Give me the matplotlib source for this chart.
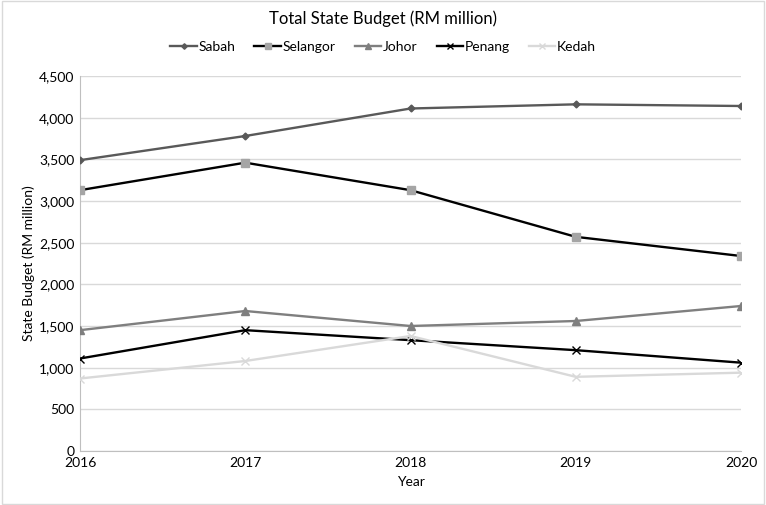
import matplotlib
matplotlib.use("Agg")
import matplotlib.pyplot as plt
from matplotlib.ticker import FuncFormatter

years = [2016, 2017, 2018, 2019, 2020]
sabah = [3490, 3780, 4110, 4160, 4140]
selangor = [3130, 3460, 3130, 2570, 2340]
johor = [1450, 1680, 1500, 1560, 1740]
penang = [1110, 1450, 1330, 1210, 1060]
kedah = [870, 1080, 1380, 890, 940]

plt.rcParams['font.family'] = ['Lato', 'DejaVu Sans']

fig = plt.figure(figsize=(7.66, 5.05), dpi=100)
ax = fig.add_axes([80/766, 1-451/505, (741-80)/766, (451-76)/505])

# series: values, line colour, marker, marker colour
series = [
    ("Sabah", sabah, "#595959", "D", "#595959", 3.5),
    ("Selangor", selangor, "#000000", "s", "#A5A5A5", 5.5),
    ("Johor", johor, "#7F7F7F", "^", "#7F7F7F", 5.5),
    ("Penang", penang, "#000000", "x", "#000000", 6),
    ("Kedah", kedah, "#D9D9D9", "x", "#D9D9D9", 6),
]
for name, vals, lc, mk, mc, ms in series:
    ax.plot(years, vals, color=lc, lw=1.7, marker=mk, markersize=ms,
            markerfacecolor=mc, markeredgecolor=mc, label=name, zorder=3)

ax.set_xlim(2016, 2020)
ax.set_ylim(0, 4500)
ax.set_xticks(years)
ax.set_yticks(range(0, 4501, 500))
ax.yaxis.set_major_formatter(FuncFormatter(lambda v, p: f"{int(v):,}"))
ax.grid(axis='y', color='#D9D9D9', lw=1)
ax.set_axisbelow(True)
for s in ['top', 'right']:
    ax.spines[s].set_visible(False)
ax.spines['left'].set_color('#BFBFBF')
ax.spines['bottom'].set_color('#BFBFBF')
ax.tick_params(length=0, labelsize=10, colors='#000000', pad=4)

ax.set_xlabel("Year", fontsize=10, labelpad=5)
ax.set_ylabel("State Budget (RM million)", fontsize=10, labelpad=3)

fig.text(0.5, 1-19/505, "Total State Budget (RM million)", ha='center', va='center', fontsize=12)
fig.legend(loc='center', bbox_to_anchor=(0.5, 1-47/505), ncol=5, frameon=False,
           fontsize=10, handlelength=1.9, columnspacing=1.4, handletextpad=0.1,
           markerscale=0.8)

border = plt.Rectangle((0.002, 0.002), 0.996, 0.996, transform=fig.transFigure,
                       fill=False, edgecolor='#D9D9D9', lw=1)
fig.patches.append(border)

fig.savefig("out.png", dpi=100)
